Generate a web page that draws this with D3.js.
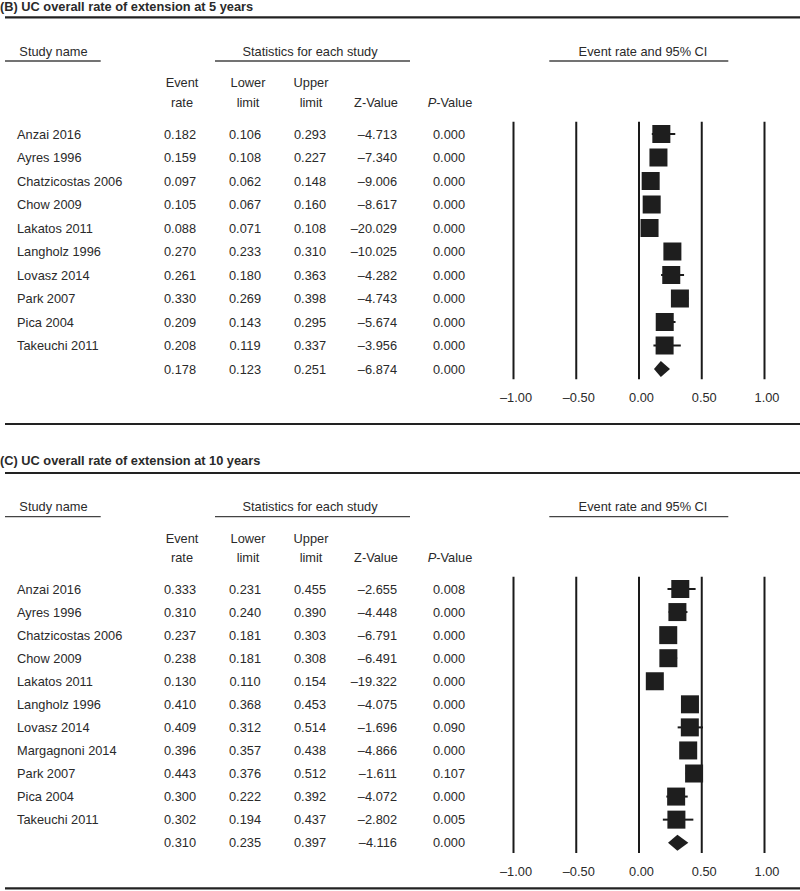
<!DOCTYPE html>
<html>
<head>
<meta charset="utf-8">
<script src="https://cdn.jsdelivr.net/npm/d3@7/dist/d3.min.js"></script>
<style>
  html, body { margin: 0; padding: 0; background: #fff; }
  svg { display: block; }
  text { font-family: "Liberation Sans", Arial, Helvetica, sans-serif; fill: #2a2a2a; }
</style>
</head>
<body>
<svg id="chart" width="800" height="891"></svg>
<script>
// ---------------- DATA ----------------
const titleB = "(B) UC overall rate of extension at 5 years";
const studiesB = ["Anzai 2016", "Ayres 1996", "Chatzicostas 2006", "Chow 2009", "Lakatos 2011",
  "Langholz 1996", "Lovasz 2014", "Park 2007", "Pica 2004", "Takeuchi 2011", ""];
const rateB  = [0.182, 0.159, 0.097, 0.105, 0.088, 0.270, 0.261, 0.330, 0.209, 0.208, 0.178];
const lowerB = [0.106, 0.108, 0.062, 0.067, 0.071, 0.233, 0.180, 0.269, 0.143, 0.119, 0.123];
const upperB = [0.293, 0.227, 0.148, 0.160, 0.108, 0.310, 0.363, 0.398, 0.295, 0.337, 0.251];
const zB     = [-4.713, -7.340, -9.006, -8.617, -20.029, -10.025, -4.282, -4.743, -5.674, -3.956, -6.874];
const pB     = [0.000, 0.000, 0.000, 0.000, 0.000, 0.000, 0.000, 0.000, 0.000, 0.000, 0.000];

const titleC = "(C) UC overall rate of extension at 10 years";
const studiesC = ["Anzai 2016", "Ayres 1996", "Chatzicostas 2006", "Chow 2009", "Lakatos 2011",
  "Langholz 1996", "Lovasz 2014", "Margagnoni 2014", "Park 2007", "Pica 2004", "Takeuchi 2011", ""];
const rateC  = [0.333, 0.310, 0.237, 0.238, 0.130, 0.410, 0.409, 0.396, 0.443, 0.300, 0.302, 0.310];
const lowerC = [0.231, 0.240, 0.181, 0.181, 0.110, 0.368, 0.312, 0.357, 0.376, 0.222, 0.194, 0.235];
const upperC = [0.455, 0.390, 0.303, 0.308, 0.154, 0.453, 0.514, 0.438, 0.512, 0.392, 0.437, 0.397];
const zC     = [-2.655, -4.448, -6.791, -6.491, -19.322, -4.075, -1.696, -4.866, -1.611, -4.072, -2.802, -4.116];
const pC     = [0.008, 0.000, 0.000, 0.000, 0.000, 0.000, 0.090, 0.000, 0.107, 0.000, 0.005, 0.000];

const axisTicks = [-1.00, -0.50, 0.00, 0.50, 1.00];
const groupHeaders = ["Study name", "Statistics for each study", "Event rate and 95% CI"];
const colHeaders1 = ["Event", "Lower", "Upper"];
const colHeaders2 = ["rate", "limit", "limit", "Z-Value", "-Value"];

// ---------------- DRAWING ----------------
const svg = d3.select("#chart");
const FS = 12.8;
const x = d3.scaleLinear().domain([-1, 1]).range([513, 764]);
const f3 = d3.format(".3f");
const fz = v => (v < 0 ? "\u2013" : "") + f3(Math.abs(v));
const ft = v => (v < 0 ? "\u2013" : "") + d3.format(".2f")(Math.abs(v));

function panel(cfg, title, names, rate, lower, upper, z, p) {
  const g = svg.append("g");
  const n = names.length;
  const rowY = d3.scaleLinear().domain([0, n - 1]).range([cfg.firstRow, cfg.lastRow]);
  const cap = 4.6;

  // title
  g.append("text").attr("x", 0).attr("y", cfg.titleY + cap)
    .attr("font-size", FS).attr("font-weight", "bold").attr("fill", "#1a1a1a").text(title);
  g.append("line").attr("x1", 5).attr("x2", 800).attr("y1", cfg.topLine).attr("y2", cfg.topLine)
    .attr("stroke", "#222").attr("stroke-width", 2.2);

  // group headers
  const ghX = [53.5, 310, 643];
  const ulX = [[5, 100.7], [215, 410], [549.3, 728.3]];
  groupHeaders.forEach((h, i) => {
    g.append("text").attr("x", ghX[i]).attr("y", cfg.groupY + cap)
      .attr("text-anchor", "middle").attr("font-size", FS).text(h);
    g.append("line").attr("x1", ulX[i][0]).attr("x2", ulX[i][1])
      .attr("y1", cfg.groupY + 10).attr("y2", cfg.groupY + 10)
      .attr("stroke", "#444").attr("stroke-width", 1.3);
  });

  // column headers
  const chX = [182, 248, 311];
  colHeaders1.forEach((h, i) => {
    g.append("text").attr("x", chX[i]).attr("y", cfg.head1Y + cap)
      .attr("text-anchor", "middle").attr("font-size", FS).text(h);
  });
  const ch2X = [182, 248, 311, 376, 450];
  colHeaders2.forEach((h, i) => {
    const t = g.append("text").attr("x", ch2X[i]).attr("y", cfg.head2Y + cap)
      .attr("text-anchor", "middle").attr("font-size", FS);
    if (i === 4) {
      t.append("tspan").attr("font-style", "italic").text("P");
      t.append("tspan").text(h);
    } else t.text(h);
  });

  // table rows
  const rows = g.selectAll("g.row").data(d3.range(n)).join("g").attr("class", "row")
    .attr("transform", i => `translate(0,${rowY(i) + cap})`);
  rows.append("text").attr("x", 17).attr("font-size", FS).text(i => names[i]);
  rows.append("text").attr("x", 180).attr("text-anchor", "middle").attr("font-size", FS).text(i => f3(rate[i]));
  rows.append("text").attr("x", 245).attr("text-anchor", "middle").attr("font-size", FS).text(i => f3(lower[i]));
  rows.append("text").attr("x", 310).attr("text-anchor", "middle").attr("font-size", FS).text(i => f3(upper[i]));
  rows.append("text").attr("x", 397).attr("text-anchor", "end").attr("font-size", FS).text(i => fz(z[i]));
  rows.append("text").attr("x", 449).attr("text-anchor", "middle").attr("font-size", FS).text(i => f3(p[i]));

  // vertical reference lines + tick labels via axis
  const gridTop = cfg.firstRow - 12.3;
  const gridBot = cfg.lastRow + 10.3;
  const axis = d3.axisBottom(x).tickValues(axisTicks).tickFormat(ft)
    .tickSizeInner(-(gridBot - gridTop)).tickSizeOuter(0).tickPadding(cfg.tickPad);
  const ag = g.append("g").attr("transform", `translate(0,${gridBot})`).call(axis);
  ag.select(".domain").remove();
  ag.selectAll(".tick line").attr("stroke", "#1a1a1a").attr("stroke-width", 2);
  ag.selectAll(".tick text").attr("font-size", FS).attr("dx", 2.5)
    .attr("font-family", "'Liberation Sans', Arial, sans-serif").attr("fill", "#2a2a2a");

  // whiskers and squares
  const studyIdx = d3.range(n - 1);
  const SQ = 18;
  g.selectAll("line.ci").data(studyIdx).join("line").attr("class", "ci")
    .attr("x1", i => x(lower[i])).attr("x2", i => x(upper[i]))
    .attr("y1", i => rowY(i)).attr("y2", i => rowY(i))
    .attr("stroke", "#1a1a1a").attr("stroke-width", 2);
  g.selectAll("rect.sq").data(studyIdx).join("rect").attr("class", "sq")
    .attr("x", i => x(rate[i]) - SQ / 2).attr("y", i => rowY(i) - SQ / 2)
    .attr("width", SQ).attr("height", SQ).attr("fill", "#1e1e1e");

  // summary diamond
  const s = n - 1, sy = rowY(s), h = 8;
  g.append("path")
    .attr("d", `M${x(lower[s])},${sy} L${x(rate[s])},${sy - h} L${x(upper[s])},${sy} L${x(rate[s])},${sy + h} Z`)
    .attr("fill", "#1e1e1e");

  // bottom line
  g.append("line").attr("x1", 5).attr("x2", 800).attr("y1", cfg.bottomLine).attr("y2", cfg.bottomLine)
    .attr("stroke", "#222").attr("stroke-width", 2.2);
}

panel({ titleY: 6, topLine: 17.3, groupY: 51, head1Y: 82.7, head2Y: 102.7,
        firstRow: 134, lastRow: 369, tickPad: 14, bottomLine: 424 },
      titleB, studiesB, rateB, lowerB, upperB, zB, pB);
panel({ titleY: 460, topLine: 473, groupY: 506.7, head1Y: 538, head2Y: 557.7,
        firstRow: 589, lastRow: 842.7, tickPad: 14, bottomLine: 888.3 },
      titleC, studiesC, rateC, lowerC, upperC, zC, pC);
</script>
</body>
</html>
